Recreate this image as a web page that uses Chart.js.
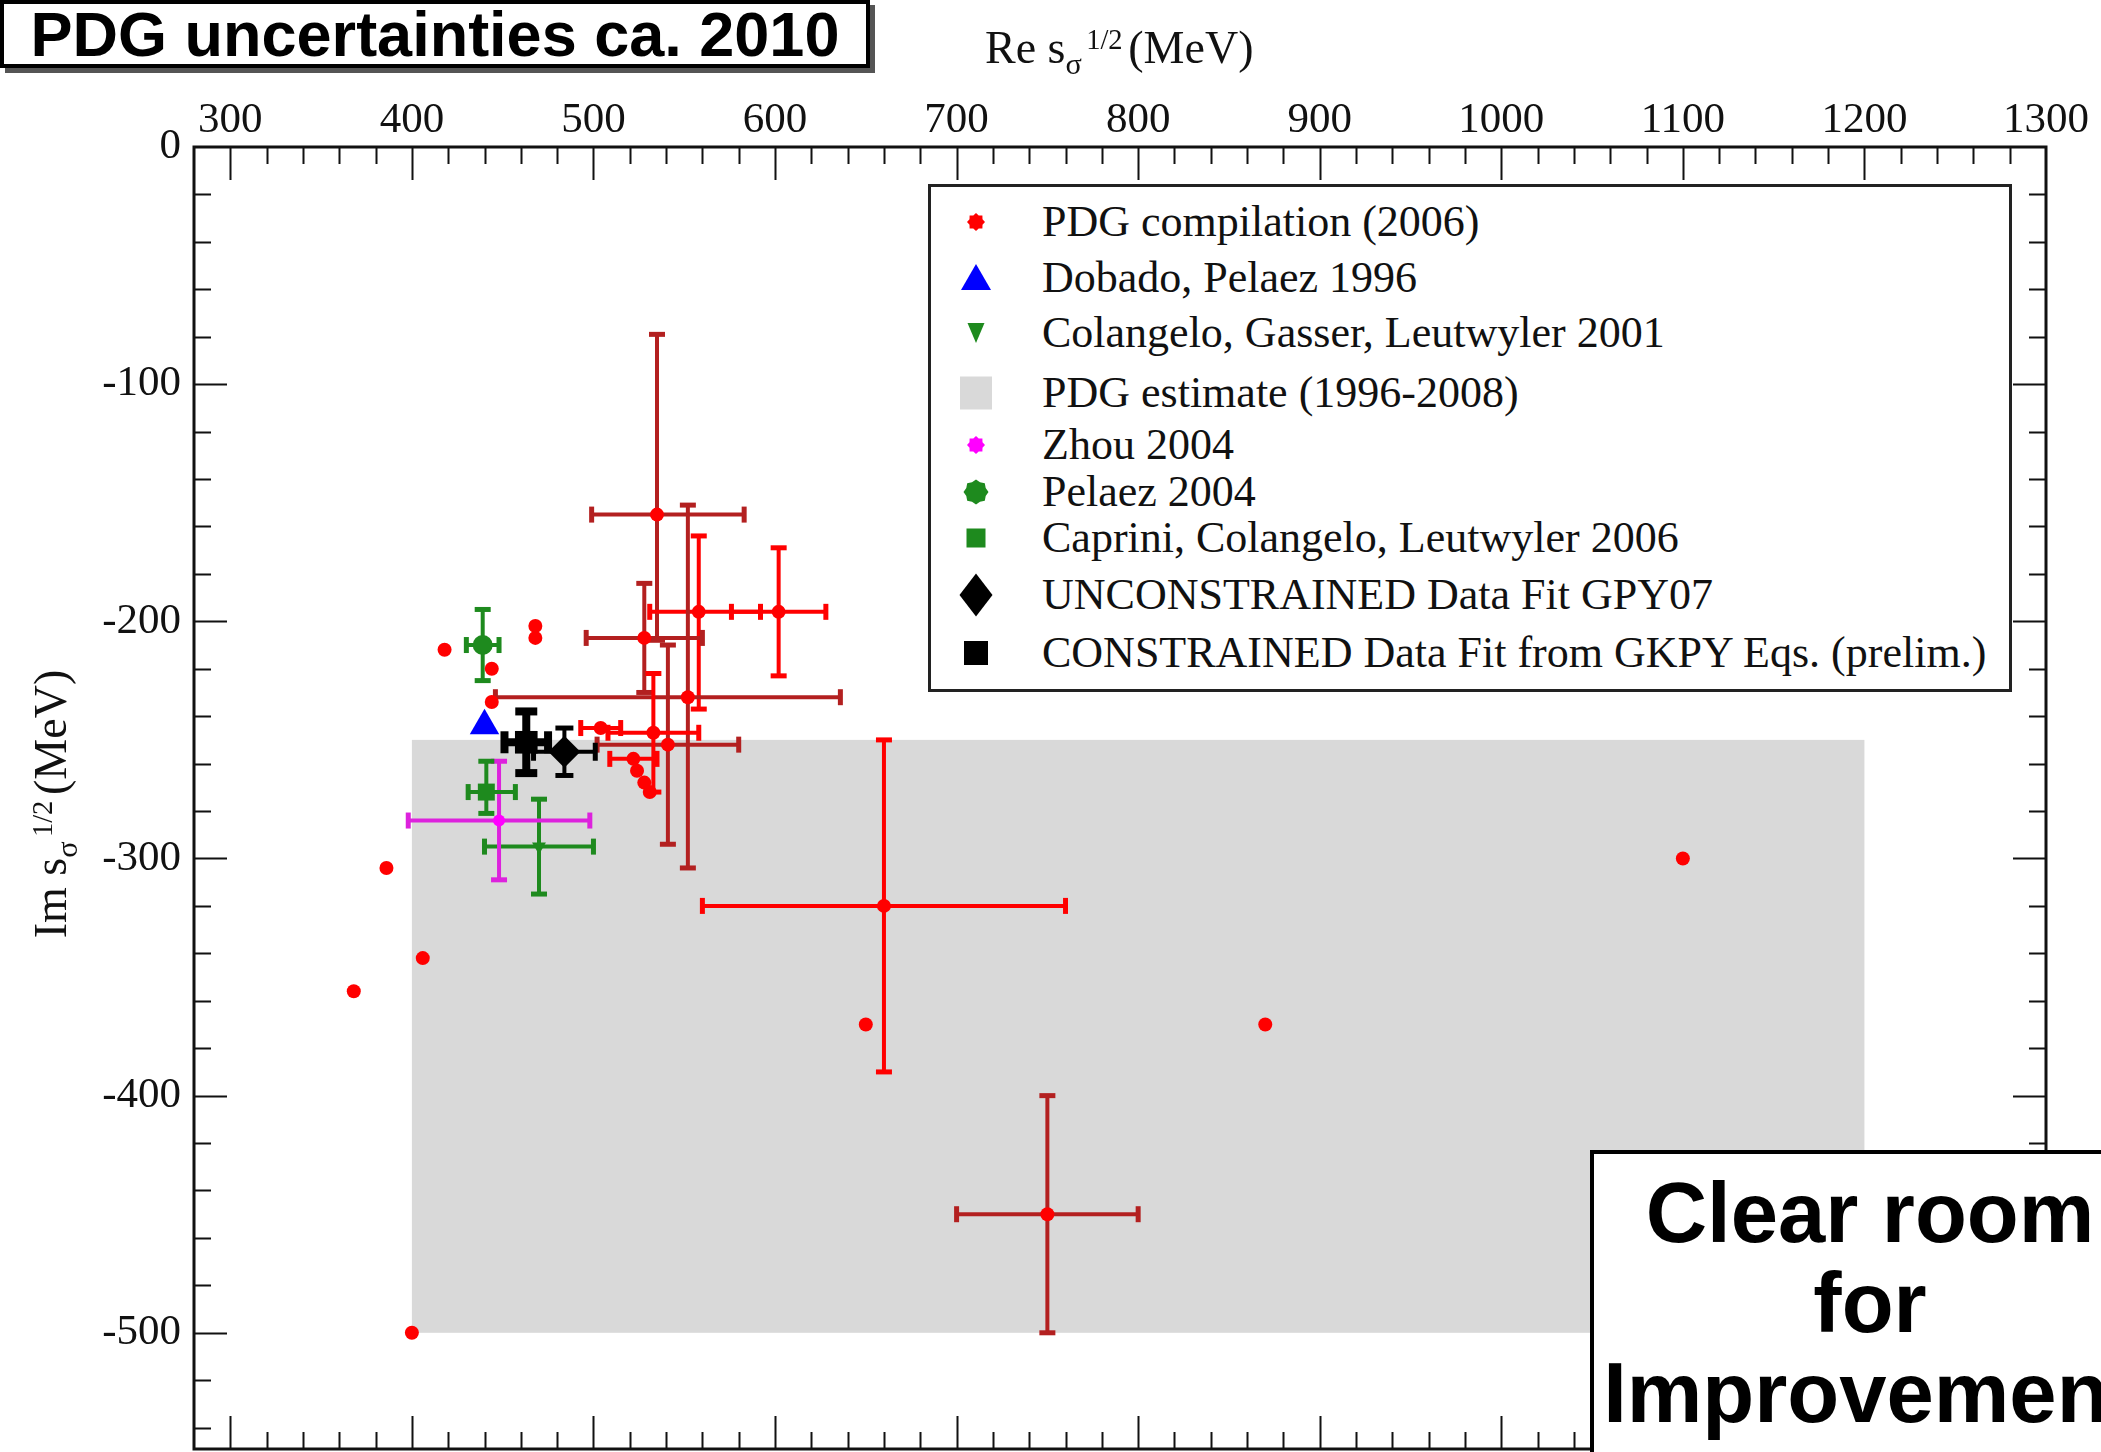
<!DOCTYPE html>
<html>
<head>
<meta charset="utf-8">
<title>PDG uncertainties ca. 2010</title>
<script src="https://cdn.jsdelivr.net/npm/chart.js@4.4.1/dist/chart.umd.min.js"></script>
<style>
  html, body { margin: 0; padding: 0; background: #fff; }
  #page { position: relative; width: 2101px; height: 1452px; overflow: hidden; background: #fff; }
  #chart { position: absolute; left: 0; top: 0; }

  .tag {
    position: absolute; box-sizing: border-box; background: #fff;
    border: 4px solid #000; box-shadow: 5px 5px 0 #555;
    font-family: "Liberation Sans", Arial, sans-serif; font-weight: bold;
    color: #000; text-align: center; white-space: nowrap;
  }
  #title { left: 0; top: 0; width: 870px; height: 68px; font-size: 63px; line-height: 60px; }
  #note { left: 1590px; top: 1150px; width: 560px; height: 420px; font-size: 85px; line-height: 90px; padding-top: 14px; }

  .axis-title {
    position: absolute; font-family: "Liberation Serif", "Times New Roman", serif;
    font-size: 46px; line-height: 46px; color: #111; white-space: nowrap;
  }
  .axis-title .sub { position: relative; top: 0.36em; font-size: 0.66em; }
  .axis-title .sup { position: relative; top: -0.5em; font-size: 0.62em; margin: 0 0.2em 0 0.15em; }
  #xTitle { left: 985px; top: 25px; }
  #yTitle { left: -146px; top: 778px; width: 400px; text-align: center; transform: rotate(-90deg); }

  #legend {
    position: absolute; left: 928px; top: 184px; width: 1084px; height: 508px;
    box-sizing: border-box; border: 3px solid #222; background: #fff;
  }
  #legend .row { position: absolute; left: 0; right: 0; height: 50px; }
  #legend svg { position: absolute; left: 20px; top: 0; }
  #legend span {
    position: absolute; left: 111px; top: 0; line-height: 50px;
    font-family: "Liberation Serif", "Times New Roman", serif; font-size: 44px; color: #111; white-space: nowrap;
  }
</style>
</head>
<body>
<div id="page">
  <canvas id="chart" width="2101" height="1452"></canvas>
  <div id="xTitle" class="axis-title">Re s<span class="sub">σ</span><span class="sup">1/2</span>(MeV)</div>
  <div id="yTitle" class="axis-title">Im s<span class="sub">σ</span><span class="sup">1/2</span>(MeV)</div>
  <div id="legend"></div>
  <div id="title" class="tag">PDG uncertainties ca. 2010</div>
  <div id="note" class="tag">Clear room<br>for<br>Improvement</div>
</div>
<script>
// sigma pole positions: x = Re sqrt(s), y = Im sqrt(s), both in MeV

const xRange = [280, 1300];
const yRange = [-549, 0];
const xTicks = [300, 400, 500, 600, 700, 800, 900, 1000, 1100, 1200, 1300];
const yTicks = [-500, -400, -300, -200, -100, 0];
const minorStep = 20;

// PDG compilation (2006); errors: Re minus / plus, Im down / up (0 = none)
const pdgRe      = [535, 602, 558, 528, 552, 541, 533, 660, 750, 504, 522, 418, 468, 468, 444, 444, 368, 386, 406, 400, 650, 870, 1100, 524, 528, 531];
const pdgIm      = [-155, -196, -196, -207, -232, -252, -247, -320, -450, -245, -258, -212, -202, -207, -220, -234, -356, -304, -342, -500, -370, -370, -300, -263, -268, -272];
const pdgReMinus = [36, 26, 27, 32, 106, 39, 25, 100, 50, 11, 13, 0, 0, 0, 0, 0, 0, 0, 0, 0, 0, 0, 0, 0, 0, 0];
const pdgRePlus  = [48, 26, 34, 32, 84, 39, 25, 100, 50, 11, 13, 0, 0, 0, 0, 0, 0, 0, 0, 0, 0, 0, 0, 0, 0, 0];
const pdgImMinus = [53, 27, 41, 23, 72, 42, 25, 70, 50, 0, 0, 0, 0, 0, 0, 0, 0, 0, 0, 0, 0, 0, 0, 0, 0, 0];
const pdgImPlus  = [76, 27, 32, 23, 81, 42, 25, 70, 50, 0, 0, 0, 0, 0, 0, 0, 0, 0, 0, 0, 0, 0, 0, 0, 0, 0];

// PDG estimate (1996-2008) band
const estimateRe = [400, 1200];
const estimateIm = [-500, -250];

const dobadoRe = [440];
const dobadoIm = [-244];

const cglRe = [470];
const cglIm = [-295];
const cglReErr = [30];
const cglImErr = [20];

const zhouRe = [448];
const zhouIm = [-284];
const zhouReErr = [50];
const zhouImErr = [25];

const pelaezRe = [439];
const pelaezIm = [-210];
const pelaezReErr = [9];
const pelaezImErr = [15];

const capriniRe = [441];
const capriniIm = [-272];
const capriniReMinus = [10];
const capriniRePlus = [16];
const capriniImMinus = [9];
const capriniImPlus = [13];

const gpyRe = [484];
const gpyIm = [-255];
const gpyReErr = [17];
const gpyImErr = [10];

const gkpyRe = [463];
const gkpyIm = [-251];
const gkpyReErr = [12];
const gkpyImErr = [13];

const seriesNames = [
  'PDG compilation (2006)',
  'Dobado, Pelaez 1996',
  'Colangelo, Gasser, Leutwyler 2001',
  'PDG estimate (1996-2008)',
  'Zhou 2004',
  'Pelaez 2004',
  'Caprini, Colangelo, Leutwyler 2006',
  'UNCONSTRAINED Data Fit GPY07',
  'CONSTRAINED Data Fit from GKPY Eqs. (prelim.)'
];

const RED = '#ff0000';
const DARK_RED = '#b32020';
const GREEN = '#1e8a1e';
const MAGENTA = '#ff00ff';
const BLUE = '#0000ff';
const BAND = '#d9d9d9';
const pdgDarkBars = [0, 3, 4, 5, 8];

function points(re, im) {
  return re.map((v, i) => ({ x: v, y: im[i] }));
}

const datasets = [
  {
    label: seriesNames[0], data: points(pdgRe, pdgIm),
    pointStyle: 'circle', pointRadius: 7, backgroundColor: RED, borderWidth: 0,
    errorBars: { reMinus: pdgReMinus, rePlus: pdgRePlus, imMinus: pdgImMinus, imPlus: pdgImPlus,
                 color: j => pdgDarkBars.includes(j) ? DARK_RED : RED, width: 4, cap: 16, capWidth: 5 }
  },
  {
    label: seriesNames[1], data: points(dobadoRe, dobadoIm),
    pointStyle: 'triangle', pointRadius: 17, backgroundColor: BLUE, borderWidth: 0
  },
  {
    label: seriesNames[2], data: points(cglRe, cglIm),
    pointStyle: 'triangle', rotation: 180, pointRadius: 8, backgroundColor: GREEN, borderWidth: 0,
    errorBars: { reMinus: cglReErr, rePlus: cglReErr, imMinus: cglImErr, imPlus: cglImErr,
                 color: GREEN, width: 4, cap: 16, capWidth: 5 }
  },
  {
    label: seriesNames[4], data: points(zhouRe, zhouIm),
    pointStyle: 'circle', pointRadius: 6, backgroundColor: MAGENTA, borderWidth: 0,
    errorBars: { reMinus: zhouReErr, rePlus: zhouReErr, imMinus: zhouImErr, imPlus: zhouImErr,
                 color: '#dd22dd', width: 4, cap: 16, capWidth: 5 }
  },
  {
    label: seriesNames[5], data: points(pelaezRe, pelaezIm),
    pointStyle: 'circle', pointRadius: 10, backgroundColor: GREEN, borderWidth: 0,
    errorBars: { reMinus: pelaezReErr, rePlus: pelaezReErr, imMinus: pelaezImErr, imPlus: pelaezImErr,
                 color: GREEN, width: 4, cap: 16, capWidth: 5 }
  },
  {
    label: seriesNames[6], data: points(capriniRe, capriniIm),
    pointStyle: 'rect', pointRadius: 12, backgroundColor: GREEN, borderWidth: 0,
    errorBars: { reMinus: capriniReMinus, rePlus: capriniRePlus, imMinus: capriniImMinus, imPlus: capriniImPlus,
                 color: GREEN, width: 4, cap: 16, capWidth: 5 }
  },
  {
    label: seriesNames[7], data: points(gpyRe, gpyIm),
    pointStyle: 'rectRot', pointRadius: 16, backgroundColor: '#000', borderWidth: 0,
    errorBars: { reMinus: gpyReErr, rePlus: gpyReErr, imMinus: gpyImErr, imPlus: gpyImErr,
                 color: '#000', width: 4, cap: 18, capWidth: 5 }
  },
  {
    label: seriesNames[8], data: points(gkpyRe, gkpyIm),
    pointStyle: 'rect', pointRadius: 16, backgroundColor: '#000', borderWidth: 0,
    errorBars: { reMinus: gkpyReErr, rePlus: gkpyReErr, imMinus: gkpyImErr, imPlus: gkpyImErr,
                 color: '#000', width: 8, cap: 22, capWidth: 8 }
  }
];

// grey PDG estimate rectangle, behind everything else in the plot
const bandPlugin = {
  id: 'estimateBand',
  beforeDatasetsDraw(chart) {
    const { ctx, scales: { x, y } } = chart;
    const x0 = x.getPixelForValue(estimateRe[0]);
    const x1 = x.getPixelForValue(estimateRe[1]);
    const y0 = y.getPixelForValue(estimateIm[1]);
    const y1 = y.getPixelForValue(estimateIm[0]);
    ctx.save();
    ctx.fillStyle = BAND;
    ctx.fillRect(x0, y0, x1 - x0, y1 - y0);
    ctx.restore();
  }
};

// horizontal and vertical error bars with end caps
const errorBarPlugin = {
  id: 'errorBars',
  beforeDatasetsDraw(chart) {
    const { ctx, chartArea, scales: { x, y } } = chart;
    ctx.save();
    ctx.beginPath();
    ctx.rect(chartArea.left, chartArea.top, chartArea.width, chartArea.height);
    ctx.clip();
    ctx.lineCap = 'butt';

    const seg = (x0, y0, x1, y1, w) => {
      ctx.lineWidth = w;
      ctx.beginPath();
      ctx.moveTo(x0, y0);
      ctx.lineTo(x1, y1);
      ctx.stroke();
    };

    chart.data.datasets.forEach(ds => {
      const e = ds.errorBars;
      if (!e) return;
      ds.data.forEach((p, j) => {
        ctx.strokeStyle = typeof e.color === 'function' ? e.color(j) : e.color;
        const px = x.getPixelForValue(p.x);
        const py = y.getPixelForValue(p.y);
        const h = e.cap / 2;
        if (e.reMinus[j] || e.rePlus[j]) {
          const xl = x.getPixelForValue(p.x - e.reMinus[j]);
          const xr = x.getPixelForValue(p.x + e.rePlus[j]);
          seg(xl, py, xr, py, e.width);
          seg(xl, py - h, xl, py + h, e.capWidth);
          seg(xr, py - h, xr, py + h, e.capWidth);
        }
        if (e.imMinus[j] || e.imPlus[j]) {
          const yb = y.getPixelForValue(p.y - e.imMinus[j]);
          const yt = y.getPixelForValue(p.y + e.imPlus[j]);
          seg(px, yb, px, yt, e.width);
          seg(px - h, yb, px + h, yb, e.capWidth);
          seg(px - h, yt, px + h, yt, e.capWidth);
        }
      });
    });
    ctx.restore();
  }
};

// closed frame with inward ticks on all four sides
const framePlugin = {
  id: 'frame',
  afterDatasetsDraw(chart) {
    const { ctx, chartArea: a, scales: { x, y } } = chart;
    ctx.save();
    ctx.strokeStyle = '#111';
    ctx.lineWidth = 2;
    ctx.beginPath();
    for (let v = xRange[0] + minorStep; v < xRange[1]; v += minorStep) {
      const len = v % 100 === 0 ? 33 : 17;
      const px = Math.round(x.getPixelForValue(v)) + 0.5;
      ctx.moveTo(px, a.top); ctx.lineTo(px, a.top + len);
      ctx.moveTo(px, a.bottom); ctx.lineTo(px, a.bottom - len);
    }
    for (let v = yRange[1] - minorStep; v > yRange[0]; v -= minorStep) {
      const len = v % 100 === 0 ? 33 : 17;
      const py = Math.round(y.getPixelForValue(v)) + 0.5;
      ctx.moveTo(a.left, py); ctx.lineTo(a.left + len, py);
      ctx.moveTo(a.right, py); ctx.lineTo(a.right - len, py);
    }
    ctx.stroke();
    ctx.lineWidth = 3;
    ctx.strokeRect(a.left, a.top, a.right - a.left, a.bottom - a.top);
    ctx.restore();
  }
};

const tickFont = { family: "'Liberation Serif', 'Times New Roman', serif", size: 43 };

new Chart(document.getElementById('chart'), {
  type: 'scatter',
  data: { datasets },
  options: {
    responsive: false,
    animation: false,
    layout: { autoPadding: false, padding: { left: 0, top: 0, right: 55, bottom: 3 } },
    plugins: { legend: { display: false }, tooltip: { enabled: false } },
    scales: {
      x: {
        type: 'linear', position: 'top', min: xRange[0], max: xRange[1],
        grid: { display: false, drawTicks: false }, border: { display: false },
        ticks: { font: tickFont, color: '#111', padding: 0, maxRotation: 0, autoSkip: false,
                 callback: v => String(v) },
        afterBuildTicks: s => { s.ticks = xTicks.map(v => ({ value: v })); },
        afterFit: s => { s.height = 147; s.paddingLeft = 0; s.paddingRight = 0; }
      },
      y: {
        type: 'linear', position: 'left', min: yRange[0], max: yRange[1],
        grid: { display: false, drawTicks: false }, border: { display: false },
        ticks: { font: tickFont, color: '#111', padding: 13, autoSkip: false,
                 callback: v => String(v) },
        afterBuildTicks: s => { s.ticks = yTicks.map(v => ({ value: v })); },
        afterFit: s => { s.width = 194; s.paddingTop = 0; s.paddingBottom = 0; }
      }
    }
  },
  plugins: [bandPlugin, errorBarPlugin, framePlugin]
});

// legend box inside the plot, upper right
function star(r1, r2, color) {
  const pts = [];
  for (let k = 0; k < 16; k++) {
    const r = k % 2 ? r2 : r1;
    const t = Math.PI * k / 8;
    pts.push((25 + r * Math.sin(t)).toFixed(1) + ',' + (25 - r * Math.cos(t)).toFixed(1));
  }
  return `<polygon points="${pts.join(' ')}" fill="${color}"/>`;
}

const legendMarkers = [
  star(9, 7, RED),
  `<polygon points="10,37 40,37 25,11" fill="${BLUE}"/>`,
  `<polygon points="16.5,15 33.5,15 25,35" fill="${GREEN}"/>`,
  `<rect x="9" y="8.5" width="32" height="33" fill="${BAND}"/>`,
  star(9, 7, MAGENTA),
  star(12.5, 10.5, GREEN),
  `<rect x="15.5" y="15.5" width="19" height="19" fill="${GREEN}"/>`,
  `<polygon points="25,3.5 41.5,25 25,46.5 8.5,25" fill="#000"/>`,
  `<rect x="13" y="13" width="24" height="24" fill="#000"/>`
];
const legendRowCenters = [35, 91, 146, 206, 258, 305, 351, 408, 466];

const legend = document.getElementById('legend');
seriesNames.forEach((name, i) => {
  const row = document.createElement('div');
  row.className = 'row';
  row.style.top = (legendRowCenters[i] - 25) + 'px';
  row.innerHTML = `<svg width="50" height="50" viewBox="0 0 50 50">${legendMarkers[i]}</svg>`;
  const text = document.createElement('span');
  text.textContent = name;
  row.appendChild(text);
  legend.appendChild(row);
});
</script>
</body>
</html>
